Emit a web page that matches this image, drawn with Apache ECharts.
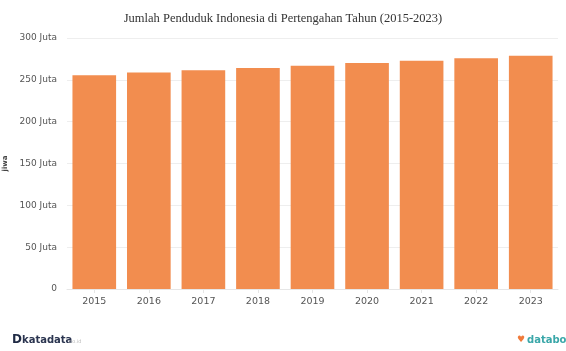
<!DOCTYPE html>
<html><head><meta charset="utf-8">
<script src="https://cdn.jsdelivr.net/npm/echarts@6/dist/echarts.min.js"></script>
<style>html,body{margin:0;padding:0;background:#fff}#c{width:566px;height:351px}</style>
</head><body><div id="c"></div>
<script>
const years = ['2015','2016','2017','2018','2019','2020','2021','2022','2023'];
const populationJuta = [255.6, 258.7, 261.4, 264.2, 266.9, 270.2, 272.7, 275.8, 278.7];
const yTicks = [0, 50, 100, 150, 200, 250, 300];

const chart = echarts.init(document.getElementById('c'));
chart.setOption({
  backgroundColor: '#fff',
  animation: false,
  title: {
    text: 'Jumlah Penduduk Indonesia di Pertengahan Tahun (2015-2023)',
    left: 'center', top: 7,
    textStyle: {fontFamily: 'Liberation Serif', fontSize: 12.5, fontWeight: 'normal', color: '#333'}
  },
  grid: {left: 67, right: 8, top: 38, bottom: 62, containLabel: false, outerBoundsMode: 'none'},
  xAxis: {
    type: 'category', data: years,
    axisLine: {lineStyle: {color: '#e6e6e6'}},
    axisTick: {show: true, alignWithLabel: true, length: 4, lineStyle: {color: '#e6e6e6'}},
    axisLabel: {color: '#555', fontSize: 9.5, fontFamily: 'DejaVu Sans', margin: 8}
  },
  yAxis: {
    type: 'value', min: yTicks[0], max: yTicks[yTicks.length-1], interval: 50,
    name: 'jiwa', nameLocation: 'middle', nameGap: 45, nameRotate: 90,
    nameTextStyle: {fontSize: 7, fontWeight: 'bold', color: '#444', fontFamily: 'DejaVu Sans'},
    axisLine: {show: false}, axisTick: {show: false},
    splitLine: {lineStyle: {color: '#eeeeee'}},
    axisLabel: {color: '#555', fontSize: 9, fontFamily: 'DejaVu Sans', margin: 10,
      formatter: v => v === 0 ? '0' : v + ' Juta'}
  },
  series: [{
    type: 'bar', data: populationJuta, barCategoryGap: '20%',
    itemStyle: {color: '#f28d4f'}
  }],
  graphic: [
    {type: 'text', left: 12, top: 334, style: {text: 'D', font: 'bold 12px DejaVu Sans', fill: '#1f2a44'}},
    {type: 'text', left: 22, top: 335, style: {text: 'katadata', font: 'bold 10px DejaVu Sans', fill: '#2b3550'}},
    {type: 'text', left: 68, top: 339, style: {text: '.co.id', font: '5px DejaVu Sans', fill: '#bbb'}},
    {type: 'text', left: 517, top: 335, style: {text: '\u2665', font: '9px DejaVu Sans', fill: '#f07a3a'}},
    {type: 'text', left: 527, top: 335, style: {text: 'databoks', font: 'bold 10px DejaVu Sans', fill: '#3aa7a9'}}
  ]
});
</script></body></html>
